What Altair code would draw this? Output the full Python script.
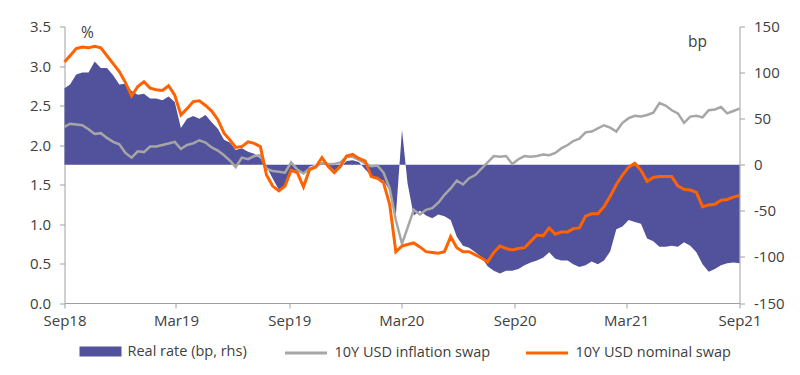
import altair as alt
import pandas as pd

# ---- data (~10-day spacing) ----
dates = (pd.date_range("2018-09-01", "2021-09-01", periods=111)
         .normalize().strftime("%Y-%m-%dT00:00:00").tolist())

nominal = [3.05, 3.13, 3.22, 3.24, 3.23, 3.25, 3.23, 3.13, 3.03, 2.93,
           2.79, 2.62, 2.74, 2.80, 2.72, 2.70, 2.69, 2.75, 2.63, 2.38,
           2.46, 2.55, 2.56, 2.50, 2.43, 2.32, 2.15, 2.06, 1.97, 1.98,
           2.04, 2.02, 1.98, 1.62, 1.48, 1.42, 1.48, 1.68, 1.65, 1.47,
           1.69, 1.72, 1.84, 1.73, 1.65, 1.73, 1.86, 1.88, 1.83, 1.80,
           1.60, 1.58, 1.52, 1.25, 0.65, 0.72, 0.74, 0.76, 0.71, 0.65,
           0.64, 0.63, 0.65, 0.84, 0.70, 0.65, 0.65, 0.61, 0.57, 0.52,
           0.64, 0.72, 0.69, 0.67, 0.69, 0.70, 0.78, 0.86, 0.85, 0.95,
           0.87, 0.90, 0.90, 0.94, 0.95, 1.10, 1.13, 1.13, 1.22, 1.35,
           1.50, 1.62, 1.72, 1.77, 1.68, 1.54, 1.59, 1.60, 1.60, 1.60,
           1.48, 1.44, 1.43, 1.40, 1.22, 1.24, 1.25, 1.30, 1.31, 1.34,
           1.36]

inflation = [2.23, 2.27, 2.26, 2.25, 2.20, 2.14, 2.15, 2.09, 2.04, 2.01,
             1.90, 1.84, 1.92, 1.91, 1.98, 1.98, 2.00, 2.02, 2.04, 1.95,
             2.00, 2.02, 2.06, 2.03, 1.97, 1.93, 1.87, 1.80, 1.72, 1.84,
             1.82, 1.86, 1.87, 1.70, 1.67, 1.66, 1.65, 1.78, 1.69, 1.64,
             1.70, 1.73, 1.77, 1.76, 1.76, 1.78, 1.85, 1.85, 1.81, 1.77,
             1.73, 1.74, 1.65, 1.45, 1.05, 0.75, 0.95, 1.18, 1.12, 1.18,
             1.20, 1.27, 1.37, 1.45, 1.55, 1.50, 1.58, 1.62, 1.70, 1.78,
             1.86, 1.85, 1.86, 1.76, 1.82, 1.86, 1.85, 1.86, 1.88, 1.87,
             1.90, 1.96, 2.00, 2.05, 2.08, 2.16, 2.17, 2.21, 2.25, 2.22,
             2.17, 2.28, 2.34, 2.37, 2.36, 2.38, 2.41, 2.53, 2.50, 2.44,
             2.40, 2.28, 2.36, 2.37, 2.35, 2.44, 2.45, 2.48, 2.40, 2.43,
             2.46]

real_bp = [83, 87, 98, 100, 100, 112, 105, 105, 97, 87,
           88, 80, 76, 77, 72, 72, 70, 74, 68, 40,
           50, 53, 50, 54, 46, 39, 27, 24, 16, 18,
           14, 12, 7, -2, -15, -27, -23, -5, -7, -10,
           -2, 0, 3, 0, -6, -3, 4, 5, 3, -5,
           -12, -16, -17, -28, -55, 38, -20, -55, -50, -55,
           -58, -54, -56, -60, -78, -88, -90, -95, -100, -110,
           -115, -118, -115, -115, -113, -109, -106, -104, -101, -95,
           -102, -104, -104, -108, -111, -109, -105, -108, -104, -94,
           -70, -67, -60, -62, -64, -80, -83, -89, -89, -88,
           -89, -84, -88, -95, -108, -116, -113, -109, -107, -106,
           -107]

REAL = "Real rate (bp, rhs)"
INFL = "10Y USD inflation swap"
NOM = "10Y USD nominal swap"
fill_color = "#52529C"
line_names = [INFL, NOM]
line_colors = ["#A6A6A6", "#FF6200"]

tick_months = [(2018, 9), (2019, 3), (2019, 9), (2020, 3), (2020, 9), (2021, 3), (2021, 9)]
left_ticks = [0.0, 0.5, 1.0, 1.5, 2.0, 2.5, 3.0, 3.5]
right_ticks = [-150, -100, -50, 0, 50, 100, 150]

df_real = pd.DataFrame({"date": dates, "value": real_bp, "series": REAL})
df_infl = pd.DataFrame({"date": dates, "value": inflation, "series": INFL})
df_nom = pd.DataFrame({"date": dates, "value": nominal, "series": NOM})

FONT = "Open Sans"
TXT = "#404040"
AX = "#A0A0A0"
FS = 15
LFS = 14.5

x_enc = alt.X(
    "date:T",
    scale=alt.Scale(domain=[alt.DateTime(year=2018, month=9, date=1),
                            alt.DateTime(year=2021, month=9, date=1)]),
    axis=alt.Axis(values=[alt.DateTime(year=y, month=m, date=1) for y, m in tick_months],
                  format="%b%y", title=None, grid=False, tickSize=5, labelPadding=5,
                  labelFlush=False, domainColor=AX, tickColor=AX, labelColor=TXT,
                  labelFontSize=FS, labelFont=FONT),
)

fill_enc = alt.Fill(
    "series:N",
    scale=alt.Scale(domain=[REAL], range=[fill_color]),
    legend=alt.Legend(title=None, orient="none", legendX=15, legendY=304,
                      direction="horizontal", symbolType="M-1,-0.24H1V0.24H-1Z",
                      symbolSize=1764, symbolStrokeWidth=0, symbolOpacity=1,
                      labelFontSize=LFS, labelFont=FONT, labelColor=TXT, labelOffset=6),
)

stroke_enc = alt.Stroke(
    "series:N",
    scale=alt.Scale(domain=line_names, range=line_colors),
    legend=alt.Legend(title=None, orient="none", legendX=219, legendY=304,
                      direction="horizontal", symbolType="stroke",
                      symbolSize=1764, symbolStrokeWidth=3, symbolOpacity=1,
                      labelFontSize=LFS, labelFont=FONT, labelColor=TXT, labelOffset=6,
                      columnPadding=29),
)

area = alt.Chart(df_real).mark_area(opacity=1).encode(
    x=x_enc,
    y=alt.Y("value:Q",
            scale=alt.Scale(domain=[-150, 150], nice=False),
            axis=alt.Axis(orient="right", values=right_ticks, grid=False, tickSize=5,
                          labelPadding=9, labelAlign="left", labelExpr="'' + datum.value",
                          domainColor=AX, tickColor=AX, labelColor=TXT,
                          labelFontSize=FS, labelFont=FONT,
                          title="bp", titleAngle=0, titleX=-42.5, titleY=14.5,
                          titleAlign="center", titleBaseline="middle",
                          titleFontSize=15.5, titleFontWeight="normal",
                          titleColor=TXT, titleFont=FONT)),
    fill=fill_enc,
)

y_left = alt.Y("value:Q",
               scale=alt.Scale(domain=[0, 3.5], nice=False),
               axis=alt.Axis(orient="left", values=left_ticks, format=".1f", grid=False,
                             tickSize=5, labelPadding=9, domainColor=AX, tickColor=AX,
                             labelColor=TXT, labelFontSize=FS, labelFont=FONT,
                             title="%", titleAngle=0, titleX=22.5, titleY=5.5,
                             titleAlign="center", titleBaseline="middle",
                             titleFontSize=15.5, titleFontWeight="normal",
                             titleColor=TXT, titleFont=FONT))

gray = alt.Chart(df_infl).mark_line(strokeWidth=2.5).encode(x=x_enc, y=y_left, stroke=stroke_enc)
orange = alt.Chart(df_nom).mark_line(strokeWidth=3).encode(x=x_enc, y=y_left, stroke=stroke_enc)

chart = (
    alt.layer(area, alt.layer(gray, orange))
    .resolve_scale(y="independent")
    .properties(width=675, height=276.5,
                autosize=alt.AutoSizeParams(type="none"),
                padding={"left": 56.5, "top": 18.5, "right": 45, "bottom": 64})
    .configure_view(stroke=None)
)

chart.save("out.html", embed_options={"renderer": "svg", "actions": False})
